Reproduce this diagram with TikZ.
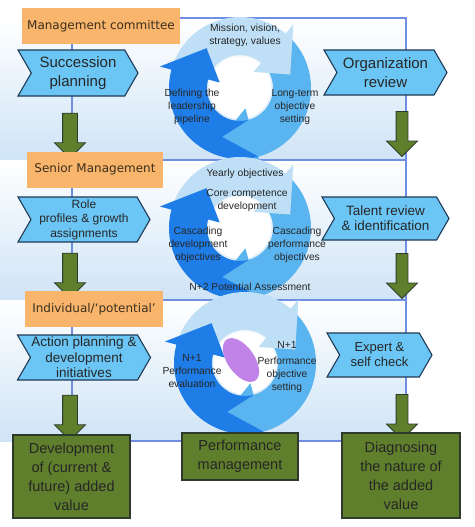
\documentclass[tikz,border=0pt]{standalone}
\usepackage{fontspec}
\setmainfont{Liberation Sans}
\newfontfamily\boxfont{DejaVu Sans}
\usetikzlibrary{arrows.meta,positioning,calc,shapes.symbols,shapes.arrows,shapes.geometric}
\definecolor{Orange}{HTML}{F8B56B}
\definecolor{BoxText}{HTML}{3C2F1E}
\definecolor{Sky}{HTML}{6BC6F5}
\definecolor{ChevEdge}{HTML}{203A55}
\definecolor{Olive}{HTML}{5F7F2D}
\definecolor{GreenEdge}{HTML}{2E3A2A}
\definecolor{Band}{HTML}{CFE4F6}
\definecolor{FrameBlue}{HTML}{6F8FE3}
\definecolor{CycDark}{HTML}{1F7DE8}
\definecolor{CycMid}{HTML}{5AB4F0}
\definecolor{CycPale}{HTML}{BEDFF6}
\definecolor{Violet}{HTML}{C283E8}
\tikzset{
  orangebox/.style={fill=Orange,minimum height=36pt,inner sep=2pt,text=BoxText,font=\boxfont\fontsize{12}{14}\selectfont},
  chevron/.style={signal,signal to=east,signal from=west,signal pointer angle=120,draw=ChevEdge,line width=1.1pt,fill=Sky,align=center,inner sep=1pt,text=black!85},
  greenbox/.style={draw=GreenEdge,line width=1.2pt,fill=Olive,align=center,text=black!85,font=\fontsize{14.5}{19}\selectfont},
  downarrow/.style={single arrow,rotate=-90,draw=GreenEdge,fill=Olive,line width=0.8pt,minimum height=45pt,
    inner xsep=0pt,inner ysep=7pt,single arrow head extend=8pt,single arrow tip angle=90},
  cyctext/.style={align=center,inner sep=0pt,text=black!85,font=\fontsize{10.3}{13}\selectfont},
  frameline/.style={draw=FrameBlue,line width=1.3pt}
}

\begin{document}
\begin{tikzpicture}[x=1pt,y=1pt]
  \useasboundingbox (0,0) rectangle (474,-527);
  % shaded bands and frame
  \foreach \ytop/\ybot in {18/160,160/300,300/441}
    \shade[top color=white,bottom color=Band] (0,-\ytop) rectangle (406,-\ybot);
  \coordinate (ftl) at (72,-18); \coordinate (fbr) at (406,-441);
  \draw[frameline] (ftl) rectangle (fbr);
  \draw[frameline] (ftl|-0,-160) -- (fbr|-0,-160);
  \draw[frameline] (ftl|-0,-300) -- (fbr|-0,-300);
  % the three cycles
  \coordinate (cycA) at (240,-88); \coordinate (cycB) at (240,-228); \coordinate (cycC) at (245,-363);
  \foreach \cyc in {cycA,cycB,cycC}{
    \fill[white] (\cyc) circle[radius=31];
    \foreach \t/\b/\col in {50/-75/CycMid,165/50/CycPale,285/165/CycDark}{
      \pgfmathsetmacro\p{\b-35}\pgfmathsetmacro\n{\t-35}
      \fill[\col] ($(\cyc)+(\t:71)$) arc[start angle=\t,end angle=\b,radius=71]
        -- ($(\cyc)+(\b:83)$) -- ($(\cyc)+(\p:52)$) -- ($(\cyc)+(\b:21)$) -- ($(\cyc)+(\b:33)$)
        arc[start angle=\b,end angle=\t,radius=33] -- ($(\cyc)+(\n:52)$) -- cycle;
    }
  }
  \node[ellipse,fill=Violet,minimum width=50pt,minimum height=27pt,rotate=-55] (focus) at (241,-360) {};
  \node[cyctext] (mission) at (245,-35) {Mission, vision,\\strategy, values};
  \node[cyctext] (pipeline) at (192,-107) {Defining the\\leadership\\pipeline};
  \node[cyctext] (longterm) at (295,-107) {Long-term\\objective\\setting};
  \node[cyctext] (yearly) at (245,-174) {Yearly objectives};
  \node[cyctext] (corecomp) at (247,-200) {Core competence\\development};
  \node[cyctext] (cascdev) at (198,-245) {Cascading\\development\\objectives};
  \node[cyctext] (cascperf) at (297,-245) {Cascading\\performance\\objectives};
  \node[cyctext] (potential) at (250,-287) {N+2 Potential Assessment};
  \node[cyctext] (evaluation) at (192,-371) {N+1\\Performance\\evaluation};
  \node[cyctext] (objset) at (287,-367) {N+1\\[3pt]Performance\\objective\\setting};
  % left column
  \node[orangebox,minimum width=158pt] (mgmt) at (101,-26) {Management committee};
  \node[chevron,minimum width=120pt,minimum height=46pt,font=\fontsize{15}{19}\selectfont] (succ) at (78,-73) {Succession\\planning};
  \node[downarrow] (gl1) at (70,-132) {};
  \node[orangebox,minimum width=136pt] (senior) at (95,-169.5) {Senior Management};
  \node[chevron,minimum width=132pt,minimum height=45pt,font=\fontsize{12}{14.5}\selectfont] (role) at (84,-219.5) {Role\\profiles \& growth\\assignments};
  \node[downarrow] (gl2) at (70,-272) {};
  \node[orangebox,minimum width=138pt] (indiv) at (94,-309) {Individual/‘potential’};
  \node[chevron,minimum width=132pt,minimum height=45pt,font=\fontsize{13.5}{15.5}\selectfont] (action) at (84,-357.5) {Action planning \&\\development\\initiatives};
  \node[downarrow] (gl3) at (70,-414) {};
  % right column
  \node[chevron,minimum width=123pt,minimum height=45pt,font=\fontsize{15}{19}\selectfont] (orgrev) at (385.5,-72.5) {Organization\\review};
  \node[downarrow,inner ysep=5.5pt,single arrow head extend=9.5pt] (gr1) at (402,-131) {};
  \node[chevron,minimum width=127pt,minimum height=43pt,font=\fontsize{13.5}{15}\selectfont] (talent) at (385.5,-218.5) {Talent review\\\& identification};
  \node[downarrow,inner ysep=5.5pt,single arrow head extend=9.5pt] (gr2) at (402,-273) {};
  \node[chevron,minimum width=105pt,minimum height=44pt,font=\fontsize{13}{15}\selectfont] (expert) at (379.5,-355) {Expert \&\\self check};
  \node[downarrow,inner ysep=5.5pt,single arrow head extend=9.5pt] (gr3) at (402,-414) {};
  % results
  \node[greenbox,minimum width=117pt,minimum height=83pt] (devval) at (71.5,-476.5) {Development\\of (current \&\\future) added\\value};
  \node[greenbox,minimum width=116pt,minimum height=47pt] (perfmgmt) at (240,-456.5) {Performance\\management};
  \node[greenbox,minimum width=118pt,minimum height=85pt] (diagval) at (401,-475.5) {Diagnosing\\the nature of\\the added\\value};
\end{tikzpicture}
\end{document}
